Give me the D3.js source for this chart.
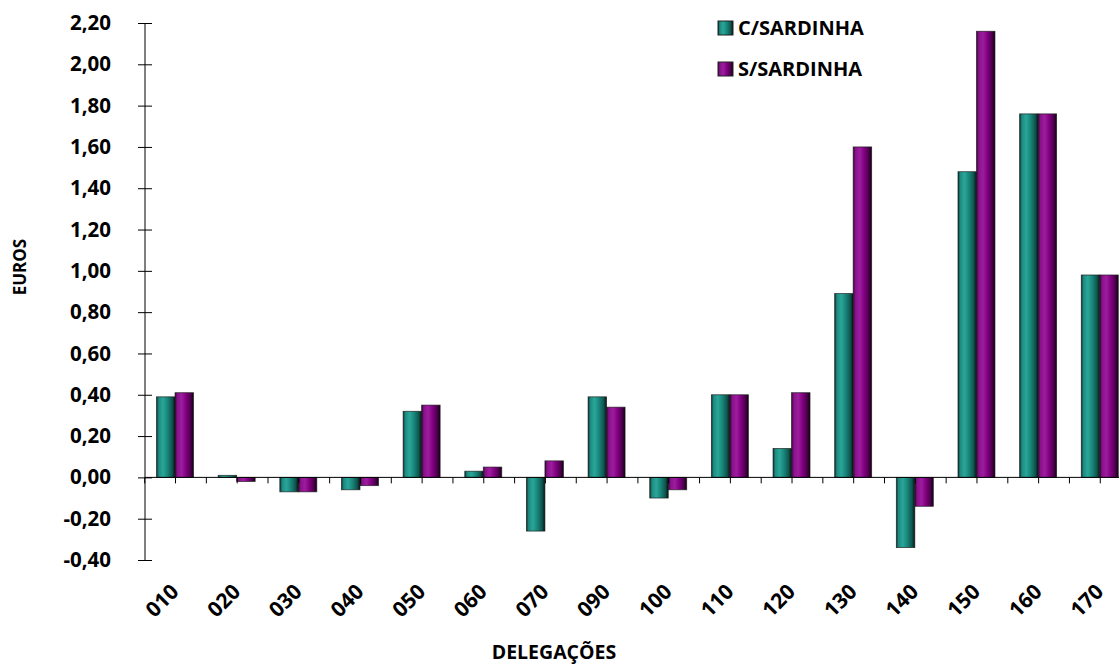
<!DOCTYPE html>
<html><head><meta charset="utf-8">
<script src="https://cdn.jsdelivr.net/npm/d3@7"></script>
<style>
html,body{margin:0;padding:0;background:#fff;}
svg text{font-family:"Open Sans",Lato,sans-serif;font-weight:bold;fill:#000;}
</style></head>
<body>
<svg id="c" width="1119" height="667"></svg>
<script>
const categories = ["010","020","030","040","050","060","070","090","100","110","120","130","140","150","160","170"];
const seriesNames = ["C/SARDINHA","S/SARDINHA"];
const cSardinha = [0.39,0.01,-0.07,-0.06,0.32,0.03,-0.26,0.39,-0.10,0.40,0.14,0.89,-0.34,1.48,1.76,0.98];
const sSardinha = [0.41,-0.02,-0.07,-0.04,0.35,0.05,0.08,0.34,-0.06,0.40,0.41,1.60,-0.14,2.16,1.76,0.98];
const yTicks = [-0.40,-0.20,0.00,0.20,0.40,0.60,0.80,1.00,1.20,1.40,1.60,1.80,2.00,2.20];
const yTitle = "EUROS";
const xTitle = "DELEGAÇÕES";

const svg = d3.select("#c");
const W = 1119, H = 667;
const left = 144.2, step = 61.65;
const right = left + step * categories.length;
const y = d3.scaleLinear().domain([-0.4, 2.2]).range([560, 23]);
const x0 = d3.scaleBand().domain(categories).range([left, right]).paddingInner(0.4).paddingOuter(0.2);
const x1 = d3.scaleBand().domain(seriesNames).range([0, x0.bandwidth()]);
const xl = d3.scaleLinear().domain([0, categories.length]).range([left, right]);

const loc = d3.formatLocale({decimal:",", thousands:".", grouping:[3], currency:["","€"], minus:"-"});
const fmt = loc.format(".2f");

const defs = svg.append("defs");
function grad(id, stops){
  const g = defs.append("linearGradient").attr("id", id).attr("x1","0%").attr("x2","100%").attr("y1","0%").attr("y2","0%");
  stops.forEach(s => g.append("stop").attr("offset", s[0]).attr("stop-color", s[1]));
}
grad("gT", [["0%","#0a302d"],["12%","#1d8a82"],["35%","#2aa698"],["60%","#188479"],["85%","#0e544d"],["100%","#031413"]]);
grad("gP", [["0%","#300630"],["12%","#88118a"],["35%","#9c1d9e"],["60%","#800080"],["85%","#4a004a"],["100%","#120012"]]);
const fills = {"C/SARDINHA":"url(#gT)","S/SARDINHA":"url(#gP)"};

const data = categories.map((c,i)=>({cat:c, vals:[{s:seriesNames[0], v:cSardinha[i]},{s:seriesNames[1], v:sSardinha[i]}]}));

const gBars = svg.append("g");
gBars.selectAll("g.cat").data(data).join("g").attr("class","cat")
  .attr("transform", d => `translate(${x0(d.cat)},0)`)
  .selectAll("rect").data(d => d.vals).join("rect")
  .attr("x", d => x1(d.s))
  .attr("width", x1.bandwidth())
  .attr("y", d => y(Math.max(0, d.v)))
  .attr("height", d => Math.max(1, Math.abs(y(d.v) - y(0))))
  .attr("fill", d => fills[d.s])
  .attr("stroke", "#1a1a1a").attr("stroke-width", 0.8).attr("stroke-opacity",0.8);

const yAxis = svg.append("g").attr("transform", `translate(${145},0)`)
  .call(d3.axisLeft(y).tickValues(yTicks).tickFormat(fmt).tickSize(7).tickPadding(27));
yAxis.select(".domain").attr("d", `M0,${y(2.2)}V${y(-0.4)}`).attr("stroke","#000");
yAxis.selectAll(".tick line").attr("x1", 7).attr("stroke","#000");
yAxis.selectAll(".tick text").style("font-size","20.5px").style("font-family","'Open Sans', sans-serif").style("font-weight","bold").attr("fill","#000");

const xAxis = svg.append("g").attr("transform", `translate(0,${y(0)})`)
  .call(d3.axisBottom(xl).tickValues(d3.range(0, categories.length + 0.01, 0.5)).tickSize(6).tickFormat(""));
xAxis.select(".domain").attr("d", `M145,0H${W}`).attr("stroke","#000");
xAxis.selectAll(".tick line").attr("stroke","#000");

svg.append("g").selectAll("text").data(categories).join("text")
  .attr("transform", d => `translate(${x0(d) + x0.bandwidth()/2 + 5},593) rotate(-45)`)
  .attr("text-anchor","end").style("font-size","21px").text(d => d);

svg.append("text").attr("transform","translate(26,267) rotate(-90)").attr("text-anchor","middle").style("font-size","17px").text(yTitle);
svg.append("text").attr("x",554).attr("y",659).attr("text-anchor","middle").style("font-size","19.5px").text(xTitle);

const leg = svg.append("g").selectAll("g").data(seriesNames).join("g")
  .attr("transform", (d,i) => `translate(718,${21 + i*41})`);
leg.append("rect").attr("width",15).attr("height",14).attr("fill", d => fills[d]).attr("stroke","#222").attr("stroke-width",1);
leg.append("text").attr("x",20).attr("y",14).style("font-size","20px").text(d => d);
</script>
</body></html>
